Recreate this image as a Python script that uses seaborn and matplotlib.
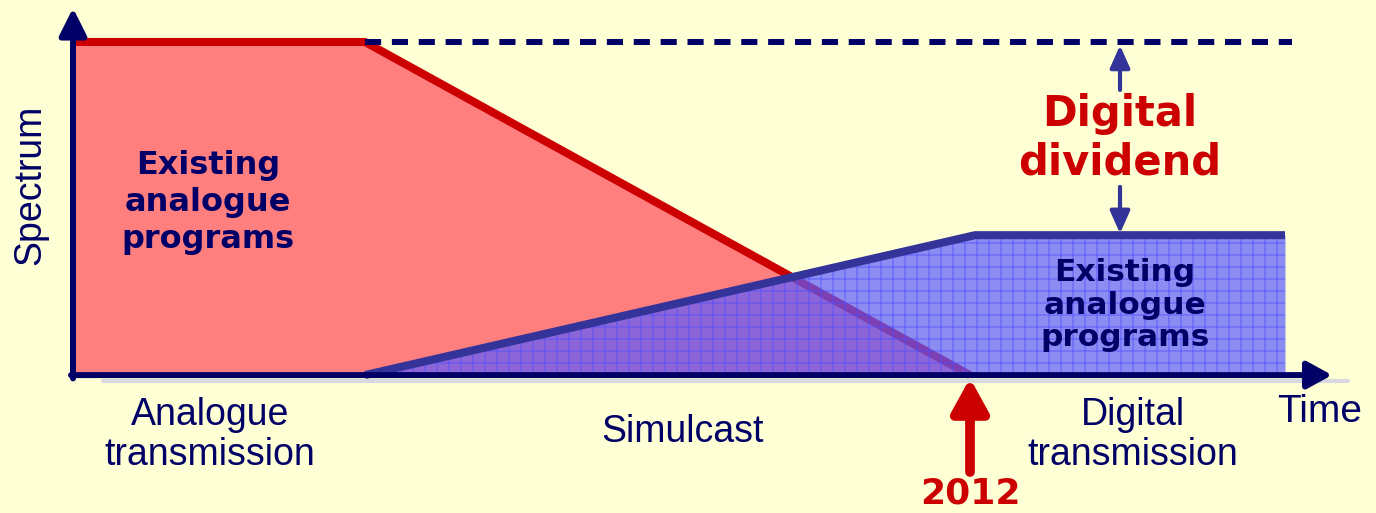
import matplotlib
matplotlib.use("Agg")
import matplotlib.pyplot as plt
import numpy as np
import seaborn as sns

# phases of the switchover (time in arbitrary units, spectrum as share of band)
analogue_t = [0.0, 2.92, 8.97]
analogue_s = [1.0, 1.0, 0.0]
digital_t = [2.92, 9.02, 12.12]
digital_s = [0.0, 0.42, 0.42]
full_band = 1.0
switch_t = 8.97
switch_year = "2012"
dividend_t = 10.47

phase_labels = ["Analogue\ntransmission", "Simulcast", "Digital\ntransmission"]
phase_t = [1.37, 6.10, 10.60]
block_label = "Existing\nanalogue\nprograms"

NAVY = "#000066"
RED = "#CC0000"
BLUE = "#333399"
BG = "#FFFFD6"

sns.set_theme(style="white")
plt.rcParams["font.family"] = ["Liberation Sans", "DejaVu Sans"]

fig = plt.figure(figsize=(13.76, 5.13), dpi=100, facecolor=BG)
ax = fig.add_axes([0, 0, 1, 1])
ax.set_facecolor(BG)
ax.set_xlim(-0.73, 13.03)
ax.set_ylim(-0.414, 1.126)
ax.axis("off")

# analogue block
ax.fill_between(analogue_t, analogue_s, 0, color="#FF7F7F", lw=0, zorder=1)
sns.lineplot(x=analogue_t, y=analogue_s, color=RED, lw=5.8, ax=ax, zorder=2,
             solid_capstyle="butt")

# digital block: translucent blue over the red, with a fine grid texture
blue_fill = ax.fill_between(digital_t, digital_s, 0, facecolor=(0.36, 0.36, 1.0, 0.7),
                            lw=0, zorder=3)
clip = blue_fill.get_paths()[0]
gx = np.arange(digital_t[0], digital_t[-1], 0.12)
gy = np.arange(0, digital_s[-1], 0.036)
v = ax.vlines(gx, 0, digital_s[-1], colors=[(0.3, 0.3, 1.0, 0.45)], lw=1.2, zorder=3)
h = ax.hlines(gy, digital_t[0], digital_t[-1], colors=[(0.3, 0.3, 1.0, 0.45)], lw=1.2, zorder=3)
for coll in (v, h):
    coll.set_clip_path(clip, ax.transData)
sns.lineplot(x=digital_t, y=digital_s, color=BLUE, lw=5.8, ax=ax, zorder=4,
             solid_capstyle="butt")

# dashed level of full band
ax.plot([digital_t[0], digital_t[-1] + 0.07], [full_band, full_band], color=NAVY,
        lw=4.3, dashes=(2.7, 1.8), zorder=4)

# axes with arrows
ax.plot([0, 12.45], [0, 0], color="#D8D8E0", lw=3, zorder=4,
        transform=ax.transData + matplotlib.transforms.ScaledTranslation(0.3, -0.06, fig.dpi_scale_trans))
ax.annotate("", xy=(0, 1.102), xytext=(0, -0.01),
            arrowprops=dict(arrowstyle="-|>,head_length=1.1,head_width=0.55", color=NAVY,
                            lw=4.3, mutation_scale=15, shrinkA=0, shrinkB=0), zorder=6)
ax.annotate("", xy=(12.59, 0), xytext=(-0.02, 0),
            arrowprops=dict(arrowstyle="-|>,head_length=1.0,head_width=0.55", color=NAVY,
                            lw=4.3, mutation_scale=15, shrinkA=0, shrinkB=0), zorder=6)

# digital dividend arrows
ax.annotate("", xy=(dividend_t, 0.99), xytext=(dividend_t, 0.856),
            arrowprops=dict(arrowstyle="-|>,head_length=0.9,head_width=0.4", color=BLUE,
                            lw=3, mutation_scale=15, shrinkA=0, shrinkB=0), zorder=6)
ax.annotate("", xy=(dividend_t, digital_s[-1] + 0.005), xytext=(dividend_t, 0.565),
            arrowprops=dict(arrowstyle="-|>,head_length=0.9,head_width=0.4", color=BLUE,
                            lw=3, mutation_scale=15, shrinkA=0, shrinkB=0), zorder=6)

# 2012 arrow
ax.annotate("", xy=(switch_t, -0.009), xytext=(switch_t, -0.291),
            arrowprops=dict(arrowstyle="-|>,head_length=1.0,head_width=0.55", color=RED,
                            lw=7, mutation_scale=20, shrinkA=0, shrinkB=0), zorder=6)
ax.text(switch_t, -0.354, switch_year, color=RED, fontsize=26, fontweight="bold",
        family=["DejaVu Sans"], ha="center", va="center")

# text labels
ax.text(-0.43, 0.57, "Spectrum", color=NAVY, fontsize=27, rotation=90,
        ha="center", va="center")
ax.text(12.47, -0.111, "Time", color=NAVY, fontsize=28, ha="center", va="center")
for lab, t in zip(phase_labels, phase_t):
    ax.text(t, -0.18 if "\n" in lab else -0.171, lab, color=NAVY, fontsize=27,
            ha="center", va="center", linespacing=1.15)

ax.text(1.35, 0.517, block_label, color=NAVY, fontsize=23, fontweight="bold",
        family=["DejaVu Sans"], ha="center", va="center", linespacing=1.25, zorder=7)
ax.text(10.52, 0.21, block_label, color=NAVY, fontsize=22.5, fontweight="bold",
        family=["DejaVu Sans"], ha="center", va="center", linespacing=1.15, zorder=7)
ax.text(dividend_t, 0.712, "Digital\ndividend", color=RED, fontsize=30, fontweight="bold",
        family=["DejaVu Sans"], ha="center", va="center", linespacing=1.2, zorder=7)

fig.savefig("out.png", dpi=100, facecolor=BG)
